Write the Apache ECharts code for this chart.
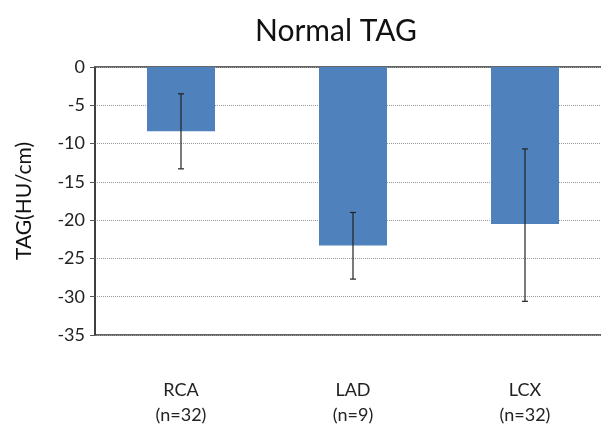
<!DOCTYPE html>
<html><head><meta charset="utf-8">
<script src="https://cdn.jsdelivr.net/npm/echarts@6/dist/echarts.min.js"></script>
<style>html,body{margin:0;padding:0;background:#fff}#c{width:601px;height:426px}</style>
</head><body><div id="c"></div>
<script>
var categories = ['RCA\n(n=32)', 'LAD\n(n=9)', 'LCX\n(n=32)'];
var means = [-8.4, -23.3, -20.5];
var errLow = [-13.3, -27.7, -30.6];
var errHigh = [-3.5, -19.0, -10.7];
var yTicks = [0, -5, -10, -15, -20, -25, -30, -35];

var FONT = 'Lato';
var chart = echarts.init(document.getElementById('c'), null, {renderer: 'canvas'});
var errData = categories.map(function (c, i) { return [i, errLow[i], errHigh[i]]; });
chart.setOption({
  animation: false,
  backgroundColor: '#fff',
  title: {
    text: 'Normal TAG', left: 331, top: 11, textAlign: 'center',
    textStyle: {fontFamily: FONT, fontSize: 30, fontWeight: 'normal', color: '#111'}
  },
  grid: {
    left: 95, top: 67, width: 516, height: 268,
    outerBoundsMode: 'none', containLabel: false,
    show: true, borderColor: '#333', borderWidth: 1.5, backgroundColor: 'transparent'
  },
  xAxis: {
    type: 'category', data: categories, position: 'bottom',
    axisLine: {show: false, onZero: false},
    axisTick: {show: false},
    axisLabel: {
      margin: 43, fontFamily: FONT, fontSize: 18, color: '#222', lineHeight: 25
    }
  },
  yAxis: {
    type: 'value', min: -35, max: 0, interval: 5,
    name: 'TAG(HU/cm)', nameLocation: 'middle', nameGap: 60,
    nameTextStyle: {fontFamily: FONT, fontSize: 21, color: '#111'},
    axisLine: {show: true, lineStyle: {color: '#333', width: 1.5}},
    axisTick: {show: true, length: 5, lineStyle: {color: '#555'}},
    axisLabel: {fontFamily: FONT, fontSize: 18, color: '#222', margin: 10},
    splitLine: {show: true, lineStyle: {color: '#999', type: 'dotted', width: 1}}
  },
  series: [{
    type: 'bar', data: means, barWidth: 68,
    itemStyle: {color: '#4f81bd'}
  }, {
    type: 'custom', data: errData,
    renderItem: function (params, api) {
      var lo = api.coord([api.value(0), api.value(1)]);
      var hi = api.coord([api.value(0), api.value(2)]);
      var w = 3;
      var st = {stroke: '#222', lineWidth: 1.2};
      return {type: 'group', children: [
        {type: 'line', shape: {x1: hi[0], y1: hi[1], x2: lo[0], y2: lo[1]}, style: st},
        {type: 'line', shape: {x1: hi[0] - w, y1: hi[1], x2: hi[0] + w, y2: hi[1]}, style: st},
        {type: 'line', shape: {x1: lo[0] - w, y1: lo[1], x2: lo[0] + w, y2: lo[1]}, style: st}
      ]};
    },
    z: 5
  }]
});
</script>
</body></html>
